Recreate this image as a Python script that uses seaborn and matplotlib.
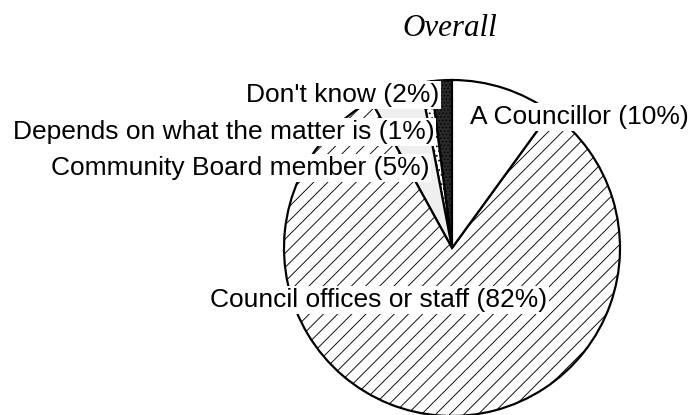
import matplotlib
matplotlib.use("Agg")
import matplotlib.pyplot as plt
import seaborn as sns

# counter-clockwise from 12 o'clock
categories = [
    "Don't know",
    "Depends on what the matter is",
    "Community Board member",
    "Council offices or staff",
    "A Councillor",
]
shares = [2, 1, 5, 82, 10]

faces = ["#2a2a2a", "white", "#efefef", "white", "white"]
hatches = ["....", "...", "", "//", ""]

# label anchor (x, y, ha) in pie-radius units
label_pos = [
    (-0.075, 0.911, "right"),
    (-0.105, 0.690, "right"),
    (-0.135, 0.476, "right"),
    (-0.435, -0.31, "center"),
    (0.11, 0.78, "left"),
]

# odd dpi so the hatch spacing comes out near the original's
DPI = 600 / 7
W, H = 693, 415


def pt(px):
    return px * 72 / DPI


sns.set_theme(style="white")
plt.rcParams["font.family"] = ["Liberation Sans", "DejaVu Sans"]
plt.rcParams["text.color"] = "black"
plt.rcParams["hatch.linewidth"] = pt(0.9)

fig = plt.figure(figsize=(W / DPI, H / DPI), dpi=DPI)
cx, cy, r = 452, 248, 168
half = 200
ax = fig.add_axes([(cx - half) / W, (H - cy - half) / H, 2 * half / W, 2 * half / H])

wedges, _ = ax.pie(
    shares,
    startangle=90,
    counterclock=True,
    radius=1,
    colors=faces,
    wedgeprops=dict(edgecolor="black", linewidth=pt(2.2)),
)
for w, h in zip(wedges, hatches):
    w.set_hatch(h)
    w.set_clip_on(False)

lim = half / r
ax.set_xlim(-lim, lim)
ax.set_ylim(-lim, lim)
ax.set_aspect("equal")
ax.axis("off")

for cat, val, (x, y, ha) in zip(categories, shares, label_pos):
    ax.text(
        x, y, f"{cat} ({val}%)", ha=ha, va="center", fontsize=pt(26.4),
        bbox=dict(facecolor="white", edgecolor="none", pad=pt(1.5)),
    )

fig.text(450 / W, 1 - 28 / H, "Overall", ha="center", va="center",
         fontsize=pt(31), style="italic", family=["Liberation Serif", "DejaVu Serif"])

fig.savefig("out.png", dpi=DPI)
